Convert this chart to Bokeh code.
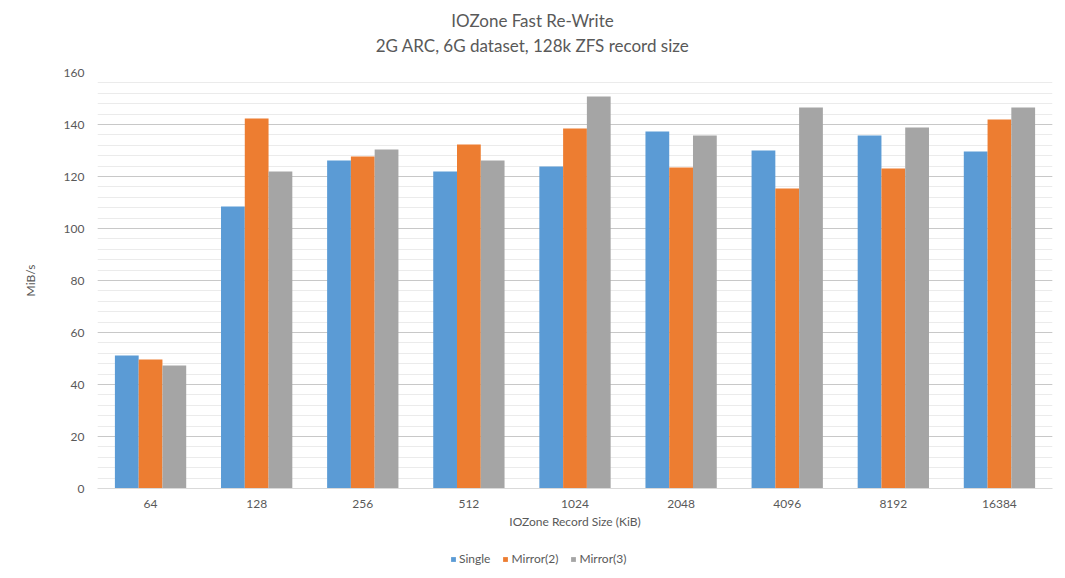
from bokeh.plotting import figure
from bokeh.models import FactorRange, Range1d, SingleIntervalTicker, Legend, LegendItem, ColumnDataSource, Label
from bokeh.layouts import column
from bokeh.transform import dodge
from bokeh.embed import file_html
from bokeh.resources import INLINE

categories = ["64", "128", "256", "512", "1024", "2048", "4096", "8192", "16384"]
single = [51.2, 108.5, 126.2, 121.9, 123.8, 137.3, 130.0, 135.8, 129.6]
mirror2 = [49.6, 142.3, 127.7, 132.3, 138.5, 123.5, 115.4, 123.1, 141.9]
mirror3 = [47.3, 121.9, 130.4, 126.2, 150.8, 135.8, 146.5, 138.8, 146.5]
series_names = ["Single", "Mirror(2)", "Mirror(3)"]
colors = ["#5B9BD5", "#ED7D31", "#A5A5A5"]
title_lines = ["IOZone Fast Re-Write", "2G ARC, 6G dataset, 128k ZFS record size"]

FONT = "Lato"
TXT = "#595959"
W = 1065
BL, BR = 97, 13  # frame borders shared by all strips

# ---- title strip ----
p0 = figure(width=W, height=64, output_backend="svg", toolbar_location=None,
            x_axis_type=None, y_axis_type=None, x_range=(BL, W - BR), y_range=(0, 64),
            min_border_left=BL, min_border_right=BR, min_border_top=0, min_border_bottom=0)
p0.outline_line_color = None
p0.xgrid.grid_line_color = None
p0.ygrid.grid_line_color = None
for t, yy in zip(title_lines, [44, 19]):
    p0.add_layout(Label(x=532, y=yy, text=t, text_align="center", text_baseline="middle",
                        text_font=FONT, text_font_size="17px", text_color=TXT))

# ---- main chart ----
src = ColumnDataSource(dict(cat=categories, s=single, m2=mirror2, m3=mirror3))

p = figure(width=W, height=476, output_backend="svg", toolbar_location=None,
           x_range=FactorRange(*categories, range_padding=0),
           y_range=Range1d(0, 160),
           min_border_left=BL, min_border_right=BR, min_border_top=8, min_border_bottom=52)

w = 0.224
cols = ["s", "m2", "m3"]
offs = [-w, 0.0, w]
for c, o, col in zip(cols, offs, colors):
    p.vbar(x=dodge("cat", o, range=p.x_range), top=c, width=w, source=src,
           fill_color=col, line_color=None)

p.yaxis.ticker = SingleIntervalTicker(interval=20, num_minor_ticks=5)
p.ygrid.grid_line_color = "#C8C8C8"
p.ygrid.minor_grid_line_color = "#EBEBEB"
p.xgrid.grid_line_color = None
p.outline_line_color = None

for ax in (p.xaxis, p.yaxis):
    ax.major_tick_line_color = None
    ax.minor_tick_line_color = None
    ax.major_tick_out = 0
    ax.major_tick_in = 0
    ax.minor_tick_out = 0
    ax.major_label_text_font = FONT
    ax.major_label_text_font_size = "12px"
    ax.major_label_text_color = TXT
    ax.axis_label_text_font = FONT
    ax.axis_label_text_font_size = "12px"
    ax.axis_label_text_color = TXT
    ax.axis_label_text_font_style = "normal"

p.yaxis.axis_line_color = None
p.yaxis.axis_label = "MiB/s"
p.yaxis.major_label_standoff = 13
p.yaxis.axis_label_standoff = 23
p.xaxis.axis_line_color = "#D9D9D9"
p.xaxis.axis_label = "IOZone Record Size (KiB)"
p.xaxis.major_label_standoff = 11
p.xaxis.axis_label_standoff = 3

# ---- legend strip ----
p2 = figure(width=W, height=38, output_backend="svg", toolbar_location=None,
            x_axis_type=None, y_axis_type=None, x_range=(0, 1), y_range=(0, 1),
            min_border_left=BL, min_border_right=BR, min_border_top=0, min_border_bottom=0)
p2.outline_line_color = None
p2.xgrid.grid_line_color = None
p2.ygrid.grid_line_color = None
items = []
for n, col in zip(series_names, colors):
    # legend swatch renderer only; it draws no bar itself
    r = p2.vbar(x=[0.5], top=[float("nan")], bottom=[float("nan")], width=0.1,
                fill_color=col, line_color=None)
    items.append(LegendItem(label=n, renderers=[r]))
legend = Legend(items=items, orientation="horizontal", location=(353, 12),
                glyph_width=6, glyph_height=6, label_text_font=FONT,
                label_text_font_size="12px", label_text_color=TXT,
                border_line_color=None, background_fill_alpha=0,
                spacing=12, label_standoff=3, margin=0, padding=0)
p2.add_layout(legend, "center")

layout = column(p0, p, p2, spacing=0)
open("out.html", "w").write(file_html(layout, INLINE))
